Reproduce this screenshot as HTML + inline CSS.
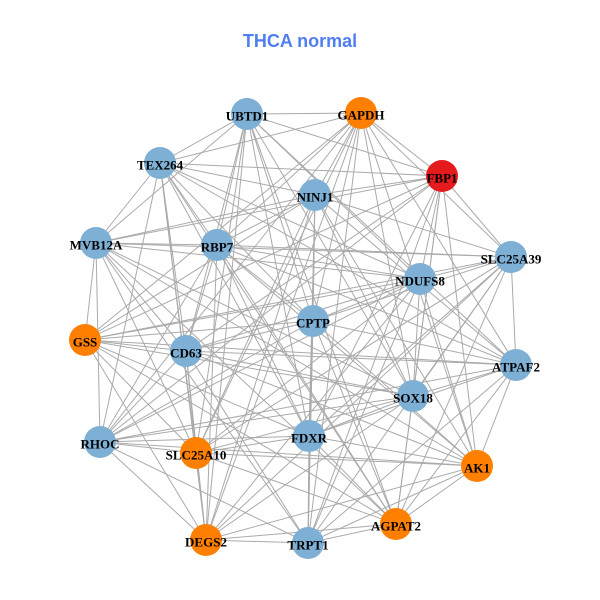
<!DOCTYPE html>
<html><head><meta charset="utf-8"><style>
html,body{margin:0;padding:0;background:#fff;}
svg{display:block}
text.l{font-family:"Liberation Serif",serif;font-weight:bold;font-size:13px;fill:#000;text-anchor:middle;dominant-baseline:central}
</style></head><body>
<svg id="s" width="600" height="600" viewBox="0 0 600 600">
<rect width="600" height="600" fill="#fff"/>
<text x="300" y="41" font-family="Liberation Sans, sans-serif" font-weight="bold" font-size="18" fill="#4f7ef0" text-anchor="middle" dominant-baseline="central">THCA normal</text>
<g id="edges" stroke="#aaaaaa" stroke-width="1"></g>
<g id="nodes">
<circle cx="247" cy="114" r="16" fill="#7eb0d5"/>
<circle cx="361" cy="113" r="16" fill="#ff7f00"/>
<circle cx="442" cy="176" r="16" fill="#e41a1c"/>
<circle cx="160" cy="163" r="16" fill="#7eb0d5"/>
<circle cx="315" cy="195" r="16" fill="#7eb0d5"/>
<circle cx="96" cy="243" r="16" fill="#7eb0d5"/>
<circle cx="217" cy="245" r="16" fill="#7eb0d5"/>
<circle cx="511" cy="257" r="16" fill="#7eb0d5"/>
<circle cx="420" cy="279" r="16" fill="#7eb0d5"/>
<circle cx="313" cy="321" r="16" fill="#7eb0d5"/>
<circle cx="85" cy="340" r="16" fill="#ff7f00"/>
<circle cx="186" cy="351" r="16" fill="#7eb0d5"/>
<circle cx="516" cy="365" r="16" fill="#7eb0d5"/>
<circle cx="413" cy="396" r="16" fill="#7eb0d5"/>
<circle cx="100" cy="442" r="16" fill="#7eb0d5"/>
<circle cx="309" cy="436" r="16" fill="#7eb0d5"/>
<circle cx="196" cy="453" r="16" fill="#ff7f00"/>
<circle cx="477" cy="466" r="16" fill="#ff7f00"/>
<circle cx="396" cy="524" r="16" fill="#ff7f00"/>
<circle cx="206" cy="540" r="16" fill="#ff7f00"/>
<circle cx="308" cy="543" r="16" fill="#7eb0d5"/>
</g>
<g>
<text class="l" x="247" y="116">UBTD1</text>
<text class="l" x="361" y="115">GAPDH</text>
<text class="l" x="442" y="178">FBP1</text>
<text class="l" x="160" y="165">TEX264</text>
<text class="l" x="315" y="197">NINJ1</text>
<text class="l" x="96" y="245">MVB12A</text>
<text class="l" x="217" y="247">RBP7</text>
<text class="l" x="511" y="259">SLC25A39</text>
<text class="l" x="420" y="281">NDUFS8</text>
<text class="l" x="313" y="323">CPTP</text>
<text class="l" x="85" y="342">GSS</text>
<text class="l" x="186" y="353">CD63</text>
<text class="l" x="516" y="367">ATPAF2</text>
<text class="l" x="413" y="398">SOX18</text>
<text class="l" x="100" y="444">RHOC</text>
<text class="l" x="309" y="438">FDXR</text>
<text class="l" x="196" y="455">SLC25A10</text>
<text class="l" x="477" y="468">AK1</text>
<text class="l" x="396" y="526">AGPAT2</text>
<text class="l" x="206" y="542">DEGS2</text>
<text class="l" x="308" y="545">TRPT1</text>
</g>
</svg>
<script>
var P=[[247,114],[361,113],[442,176],[160,163],[315,195],[96,243],[217,245],[511,257],[420,279],[313,321],[85,340],[186,351],[516,365],[413,396],[100,442],[309,436],[196,453],[477,466],[396,524],[206,540],[308,543]];
var g=document.getElementById('edges'),h='';
for(var i=0;i<P.length;i++)for(var j=i+1;j<P.length;j++){
 if(((i*7+j*13)%10)<3)continue;
 h+='<line x1="'+P[i][0]+'" y1="'+P[i][1]+'" x2="'+P[j][0]+'" y2="'+P[j][1]+'"/>';
}
g.innerHTML=h;
</script>
</body></html>
